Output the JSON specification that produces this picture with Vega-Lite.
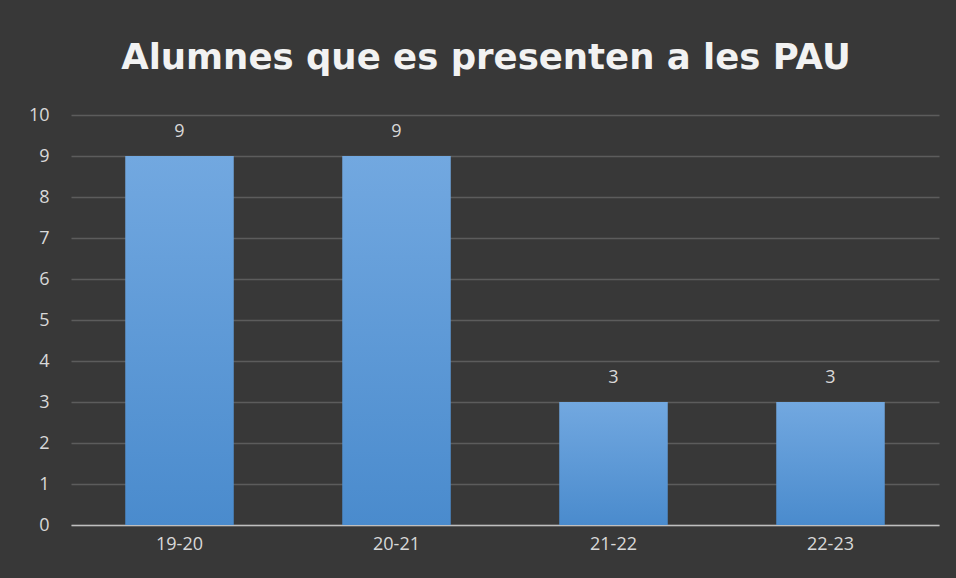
{
  "$schema": "https://vega.github.io/schema/vega-lite/v6.json",
  "width": 868,
  "height": 410,
  "autosize": {"type": "none"},
  "padding": {"left": 71, "top": 115, "right": 17, "bottom": 53},
  "background": "#383838",
  "title": {
    "text": "Alumnes que es presenten a les PAU",
    "font": "DejaVu Sans",
    "fontSize": 35.5,
    "fontWeight": "bold",
    "color": "#f2f2f2",
    "anchor": "middle",
    "dx": -19,
    "offset": 30
  },
  "data": {
    "values": [
      {"curs": "19-20", "alumnes": 9},
      {"curs": "20-21", "alumnes": 9},
      {"curs": "21-22", "alumnes": 3},
      {"curs": "22-23", "alumnes": 3}
    ]
  },
  "config": {
    "view": {"stroke": null},
    "axis": {
      "labelFont": "Open Sans",
      "labelFontSize": 18,
      "labelColor": "#d9d9d9",
      "title": null
    }
  },
  "encoding": {
    "x": {
      "field": "curs",
      "type": "nominal",
      "sort": null,
      "scale": {"paddingInner": 0.5, "paddingOuter": 0.25},
      "axis": {
        "labelAngle": 0,
        "domain": true,
        "domainColor": "#bfbfbf",
        "domainWidth": 1.5,
        "ticks": false,
        "labelPadding": 10
      }
    },
    "y": {
      "field": "alumnes",
      "type": "quantitative",
      "scale": {"domain": [0, 10]},
      "axis": {
        "values": [0, 1, 2, 3, 4, 5, 6, 7, 8, 9, 10],
        "labelOverlap": false,
        "domain": false,
        "ticks": false,
        "gridColor": "#5c5c5c",
        "gridWidth": 1.5,
        "labelPadding": 22
      }
    }
  },
  "layer": [
    {
      "mark": {
        "type": "bar",
        "color": {
          "gradient": "linear",
          "x1": 0, "y1": 0, "x2": 0, "y2": 1,
          "stops": [
            {"offset": 0, "color": "#72a8e0"},
            {"offset": 1, "color": "#4a8bcd"}
          ]
        }
      }
    },
    {
      "mark": {
        "type": "text",
        "dy": -24,
        "font": "Open Sans",
        "fontSize": 18,
        "color": "#d9d9d9"
      },
      "encoding": {"text": {"field": "alumnes", "type": "quantitative"}}
    }
  ]
}
